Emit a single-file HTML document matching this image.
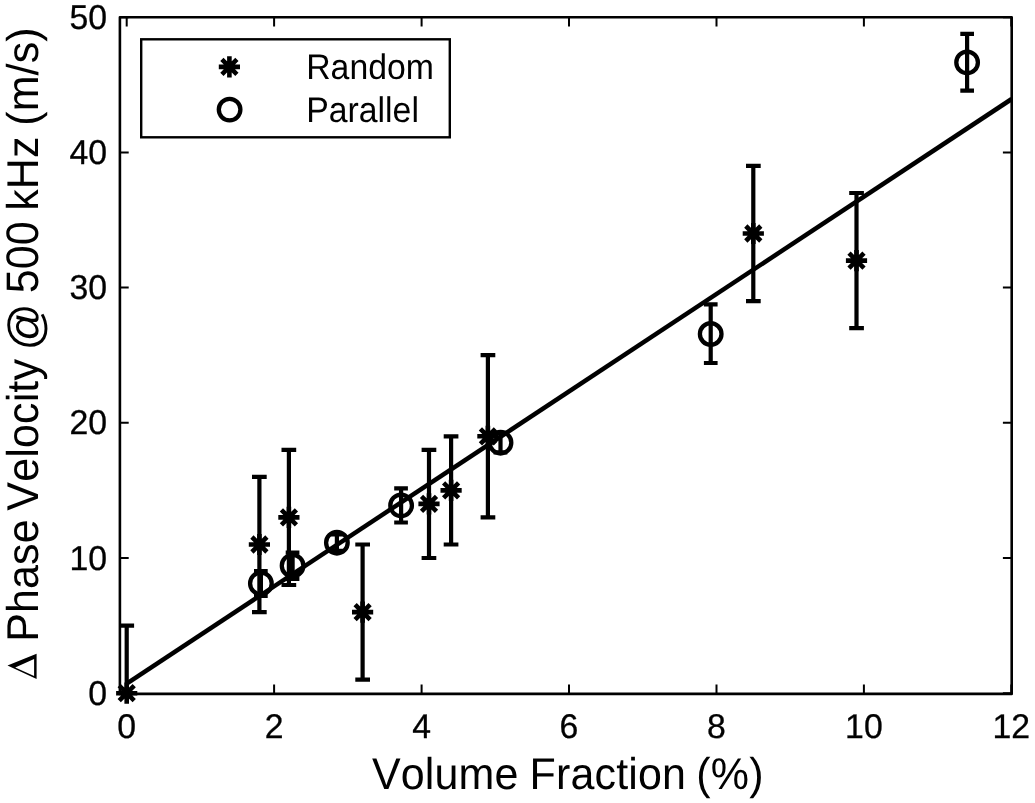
<!DOCTYPE html>
<html><head><meta charset="utf-8"><title>Chart</title>
<style>html,body{margin:0;padding:0;background:#fff;}svg{display:block;}</style></head>
<body>
<svg width="1035" height="803" viewBox="0 0 1035 803">
<rect width="1035" height="803" fill="#fff"/>
<g fill="none" stroke="#000" stroke-width="2.6" stroke-linejoin="round">
<rect x="119.9" y="17.2" width="891.8" height="676.7"/>
<path d="M126.7 693.9V684.5M126.7 17.2V26.6M274.1 693.9V684.5M274.1 17.2V26.6M421.6 693.9V684.5M421.6 17.2V26.6M569.0 693.9V684.5M569.0 17.2V26.6M716.5 693.9V684.5M716.5 17.2V26.6M863.9 693.9V684.5M863.9 17.2V26.6M1011.3 693.9V684.5M1011.3 17.2V26.6M119.9 693.2H128.7M1011.7 693.2H1002.9M119.9 558.0H128.7M1011.7 558.0H1002.9M119.9 422.8H128.7M1011.7 422.8H1002.9M119.9 287.6H128.7M1011.7 287.6H1002.9M119.9 152.4H128.7M1011.7 152.4H1002.9M119.9 17.2H128.7M1011.7 17.2H1002.9" stroke-width="2"/>
</g>
<path d="M126.7 683.7L1011.7 99.0" stroke="#000" stroke-width="4.5" fill="none"/>
<g fill="none" stroke="#000" stroke-width="4.2">
<path d="M126.7 625.6V693.2M119.4 625.6H134.1"/>
<path d="M259.4 476.9V612.1M252.0 476.9H266.7M252.0 612.1H266.7"/>
<path d="M288.9 449.8V585.0M281.5 449.8H296.2M281.5 585.0H296.2"/>
<path d="M362.6 544.5V679.7M355.3 544.5H370.0M355.3 679.7H370.0"/>
<path d="M429.0 449.8V558.0M421.6 449.8H436.3M421.6 558.0H436.3"/>
<path d="M451.1 436.3V544.5M443.7 436.3H458.4M443.7 544.5H458.4"/>
<path d="M487.9 355.2V517.4M480.6 355.2H495.3M480.6 517.4H495.3"/>
<path d="M753.3 165.9V301.1M746.0 165.9H760.7M746.0 301.1H760.7"/>
<path d="M856.5 193.0V328.2M849.2 193.0H863.9M849.2 328.2H863.9"/>
<path d="M260.9 571.0V595.9M254.0 571.0H267.7M254.0 595.9H267.7"/>
<path d="M292.6 552.6V578.8M285.7 552.6H299.4M285.7 578.8H299.4"/>
<path d="M336.9 534.5V550.8M330.0 534.5H343.7M330.0 550.8H343.7"/>
<path d="M401.1 488.3V522.5M394.2 488.3H407.9M394.2 522.5H407.9"/>
<path d="M500.5 432.9V452.4M493.6 432.9H507.3M493.6 452.4H507.3"/>
<path d="M710.7 304.4V363.0M703.9 304.4H717.6M703.9 363.0H717.6"/>
<path d="M967.1 33.8V90.7M960.3 33.8H974.0M960.3 90.7H974.0"/>
</g>
<g fill="none" stroke="#000" stroke-width="4.6">
<path d="M116.1 693.2H137.3M126.7 682.6V703.8M119.2 685.7L134.2 700.7M119.2 700.7L134.2 685.7"/>
<path d="M248.8 544.5H270.0M259.4 533.9V555.1M251.9 537.0L266.9 552.0M251.9 552.0L266.9 537.0"/>
<path d="M278.3 517.4H299.5M288.9 506.8V528.0M281.4 509.9L296.4 524.9M281.4 524.9L296.4 509.9"/>
<path d="M352.0 612.1H373.2M362.6 601.5V622.7M355.1 604.6L370.1 619.6M355.1 619.6L370.1 604.6"/>
<path d="M418.4 503.9H439.6M429.0 493.3V514.5M421.5 496.4L436.5 511.4M421.5 511.4L436.5 496.4"/>
<path d="M440.5 490.4H461.7M451.1 479.8V501.0M443.6 482.9L458.6 497.9M443.6 497.9L458.6 482.9"/>
<path d="M477.3 436.3H498.5M487.9 425.7V446.9M480.4 428.8L495.4 443.8M480.4 443.8L495.4 428.8"/>
<path d="M742.7 233.5H763.9M753.3 222.9V244.1M745.8 226.0L760.8 241.0M745.8 241.0L760.8 226.0"/>
<path d="M845.9 260.6H867.1M856.5 250.0V271.2M849.0 253.1L864.0 268.1M849.0 268.1L864.0 253.1"/>
<path d="M218.8 66.9H240.0M229.4 56.3V77.5M221.9 59.4L236.9 74.4M221.9 74.4L236.9 59.4"/>
</g>
<g fill="none" stroke="#000" stroke-width="4.3">
<circle cx="260.9" cy="583.4" r="10.8"/>
<circle cx="292.6" cy="565.7" r="10.8"/>
<circle cx="336.9" cy="542.7" r="10.8"/>
<circle cx="401.1" cy="505.4" r="10.8"/>
<circle cx="500.5" cy="442.7" r="10.8"/>
<circle cx="710.7" cy="334.0" r="10.8"/>
<circle cx="967.1" cy="62.4" r="10.8"/>
<circle cx="229.6" cy="109.6" r="10.8"/>
</g>
<rect x="141.2" y="39.3" width="308.6" height="98.0" fill="none" stroke="#000" stroke-width="2.4"/>
<g font-family="'Liberation Sans', sans-serif" fill="#000" opacity="0.999" text-rendering="geometricPrecision" style="font-kerning:none">
<g font-size="33.8px">
<text transform="translate(306.2,78.6) scale(1,1.055)">Random</text>
<text transform="translate(306.2,121.6) scale(1,1.055)">Parallel</text>
</g>
<g font-size="33.8px" stroke="#000" stroke-width="0.3">
<text transform="translate(126.7,737.5) scale(1,1.015)" text-anchor="middle">0</text>
<text transform="translate(274.1,737.5) scale(1,1.015)" text-anchor="middle">2</text>
<text transform="translate(421.6,737.5) scale(1,1.015)" text-anchor="middle">4</text>
<text transform="translate(569.0,737.5) scale(1,1.015)" text-anchor="middle">6</text>
<text transform="translate(716.5,737.5) scale(1,1.015)" text-anchor="middle">8</text>
<text transform="translate(863.9,737.5) scale(1,1.015)" text-anchor="middle">10</text>
<text transform="translate(1011.3,737.5) scale(1,1.015)" text-anchor="middle">12</text>
<text transform="translate(107.0,704.7) scale(1,1.02)" text-anchor="end">0</text>
<text transform="translate(107.0,569.5) scale(1,1.02)" text-anchor="end">10</text>
<text transform="translate(107.0,434.3) scale(1,1.02)" text-anchor="end">20</text>
<text transform="translate(107.0,299.1) scale(1,1.02)" text-anchor="end">30</text>
<text transform="translate(107.0,163.9) scale(1,1.02)" text-anchor="end">40</text>
<text transform="translate(107.0,28.7) scale(1,1.02)" text-anchor="end">50</text>
</g>
<g font-size="43.0px" text-anchor="middle" letter-spacing="0.15">
<text transform="translate(445.3,788.9) scale(1,1.035)">Volume</text>
<text transform="translate(607.8,788.9) scale(1,1.035)">Fraction</text>
<text transform="translate(730.0,788.9) scale(1,1.035)">(%)</text>
<text transform="translate(37.5,76.5) rotate(-90) scale(1,1.035)">(m/s)</text>
<text transform="translate(37.5,173.6) rotate(-90) scale(1,1.035)">kHz</text>
<text transform="translate(37.5,257.2) rotate(-90) scale(1,1.06)">500</text>
<text font-size="46.6px" transform="translate(40.8,326.9) rotate(-90)">@</text>
<text transform="translate(37.5,434.8) rotate(-90) scale(1,1.035)">Velocity</text>
<text transform="translate(37.5,580.5) rotate(-90) scale(1,1.035)">Phase</text>
</g>
</g>
<path fill="#000" fill-rule="evenodd" d="M7.5 665.4L36.6 653.8V678.9ZM15.2 667.4L34.1 659.1V676.0Z"/>
</svg>
</body></html>
